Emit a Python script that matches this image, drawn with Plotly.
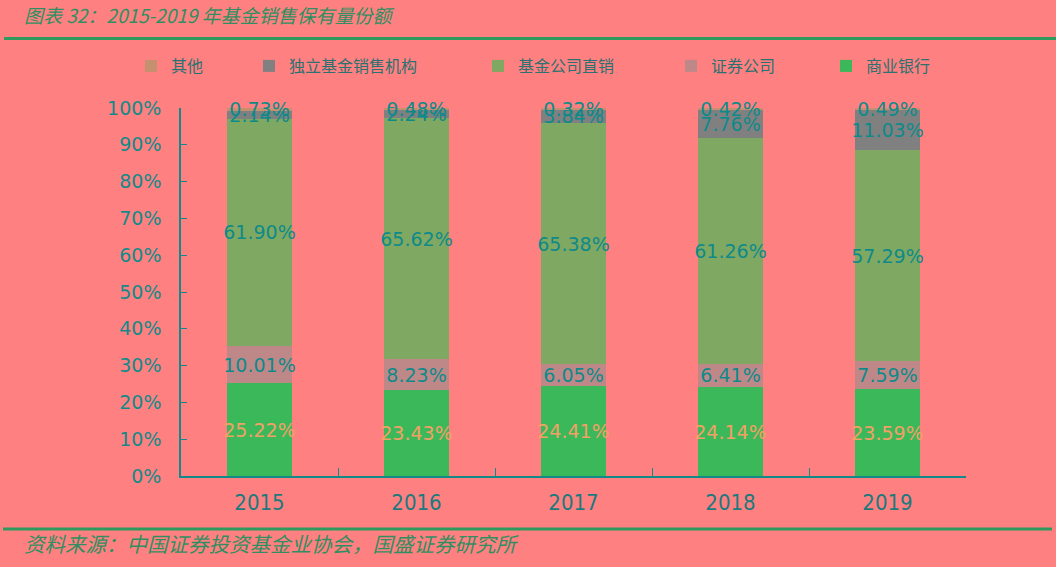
import plotly.graph_objects as go

years = ["2015", "2016", "2017", "2018", "2019"]
bank = [25.22, 23.43, 24.41, 24.14, 23.59]          # 商业银行
securities = [10.01, 8.23, 6.05, 6.41, 7.59]        # 证券公司
fund_direct = [61.90, 65.62, 65.38, 61.26, 57.29]   # 基金公司直销
independent = [2.14, 2.24, 3.84, 7.76, 11.03]       # 独立基金销售机构
other = [0.73, 0.48, 0.32, 0.42, 0.49]              # 其他

series = [
    ("商业银行", bank, "#3BB85A", "#F2A066", "legend5"),
    ("证券公司", securities, "#BF8888", "#0E8A8A", "legend4"),
    ("基金公司直销", fund_direct, "#7FA862", "#0E8A8A", "legend3"),
    ("独立基金销售机构", independent, "#808080", "#0E8A8A", "legend2"),
    ("其他", other, "#C4906F", "#0E8A8A", "legend"),
]

BG = "#FF8080"
TEAL = "#128A8A"
GREEN = "#2E9A5E"

# plot area in pixels
L, R, T, B = 181, 966, 108, 476
W, H = R - L, B - T


def px_x(p):
    return (p - L) / W


def px_y(p):
    return (B - p) / H


fig = go.Figure()
for name, vals, color, tcolor, leg in series:
    fig.add_trace(go.Bar(
        x=years, y=[v / 100 for v in vals], name=name,
        marker=dict(color=color, line=dict(width=0)),
        text=[f"{v:.2f}%" for v in vals],
        textposition="inside", insidetextanchor="middle",
        textangle=0, constraintext="none", cliponaxis=False,
        textfont=dict(family="DejaVu Sans", size=19, color=tcolor),
        legend=leg, hoverinfo="skip",
    ))

legend_icon_left = {"legend": 145, "legend2": 263, "legend3": 492, "legend4": 685, "legend5": 840}
leg_font = dict(family="Noto Sans CJK SC", size=16, color="#2A7272")
layout_legends = {}
for key, px in legend_icon_left.items():
    layout_legends[key] = dict(
        x=px_x(px - 14), y=px_y(66), xanchor="left", yanchor="middle",
        orientation="h", bgcolor="rgba(0,0,0,0)", font=leg_font,
    )

fig.update_layout(
    width=1056, height=567,
    paper_bgcolor=BG, plot_bgcolor=BG,
    margin=dict(l=L, r=1056 - R, t=T, b=567 - B),
    barmode="stack", bargap=0.592,
    showlegend=True,
    **layout_legends,
    xaxis=dict(
        type="category", tickson="boundaries", ticks="inside", ticklen=8,
        tickcolor=TEAL, showline=True, linecolor=TEAL, linewidth=1.5,
        showgrid=False, ticklabelstandoff=6,
        tickfont=dict(family="DejaVu Sans Condensed, DejaVu Sans", size=22, color="#1A7A7E"),
    ),
    yaxis=dict(
        range=[0, 1], dtick=0.1, tickformat=".0%", ticks="inside", ticklen=6,
        tickcolor=TEAL, showline=True, linecolor=TEAL, linewidth=1.5,
        showgrid=False, zeroline=False, ticklabelstandoff=14,
        tickfont=dict(family="DejaVu Sans", size=19, color=TEAL),
    ),
    shapes=[
        dict(type="line", xref="paper", yref="paper", x0=px_x(4), x1=px_x(1056),
             y0=px_y(38.5), y1=px_y(38.5), line=dict(color=GREEN, width=3)),
        dict(type="line", xref="paper", yref="paper", x0=px_x(3), x1=px_x(1052),
             y0=px_y(529), y1=px_y(529), line=dict(color=GREEN, width=3)),
    ],
    annotations=[
        dict(text="<i>图表 32：2015-2019 年基金销售保有量份额</i>", xref="paper", yref="paper",
             x=px_x(22), y=px_y(14), xanchor="left", yanchor="middle", showarrow=False,
             font=dict(family="Noto Sans CJK SC", size=19, color="#2F8F62")),
        dict(text="<i>资料来源：中国证券投资基金业协会，国盛证券研究所</i>", xref="paper", yref="paper",
             x=px_x(22), y=px_y(543), xanchor="left", yanchor="middle", showarrow=False,
             font=dict(family="Noto Sans CJK SC", size=20.5, color="#2F8F62")),
    ],
)

fig.write_html("out.html")
